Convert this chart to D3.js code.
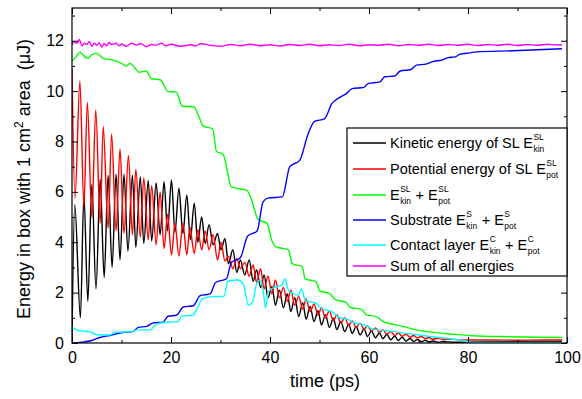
<!DOCTYPE html>
<html><head><meta charset="utf-8">
<script src="https://cdn.jsdelivr.net/npm/d3@7"></script>
<style>
body{margin:0;background:#fff}
svg{display:block}
text{font-family:"Liberation Sans",Arial,sans-serif;fill:#000;white-space:pre}
</style>
</head><body>
<svg id="c" width="582" height="399"></svg>
<script>
const xTicks=[0,20,40,60,80,100];
const xMinor=[10,30,50,70,90];
const yTicks=[0,2,4,6,8,10,12];
const yMinor=[1,3,5,7,9,11,13];

// Kinetic energy of SL [time ps, energy µJ]
const kinetic=[[0,0.15],[0.55,5.5],[1.7,1.0],[2.4,5.9],[3.2,1.65],[4.0,6.3],[4.85,2.15],[5.7,6.5],[6.5,2.6],[7.3,6.65],[8.1,3.0],[8.9,6.7],[9.7,3.3],[10.5,6.7],[11.3,3.65],[12.2,6.65],[12.9,3.8],[13.8,6.6],[14.5,3.95],[15.4,6.45],[16.1,4.05],[17.0,6.35],[17.8,4.3],[18.6,6.4],[19.3,4.45],[20.1,6.47],[20.8,4.4],[21.6,6.15],[22.4,4.35],[23.2,5.87],[23.9,4.1],[24.7,5.55],[25.4,4.0],[26.2,5.0],[26.9,3.95],[27.7,4.7],[28.5,3.9],[29.4,4.35],[30.1,3.7],[30.9,4.15],[31.6,3.15],[32.5,3.7],[33.3,2.8],[34.0,3.3],[34.9,2.7],[35.8,3.3],[36.6,2.45],[37.3,2.9],[38.1,2.2],[38.8,2.7],[39.6,1.8],[40.4,2.25],[41.1,1.5],[41.9,2.1],[42.7,1.4],[43.5,1.95],[44.2,1.25],[45.0,1.8],[45.8,1.05],[46.6,1.6],[47.3,0.95],[48.1,1.45],[48.9,0.85],[49.7,1.28],[50.4,0.72],[51.2,1.12],[52.0,0.62],[52.8,0.98],[53.5,0.53],[54.3,0.86],[55.1,0.45],[55.9,0.75],[56.6,0.38],[57.4,0.65],[58.2,0.32],[59.0,0.56],[59.7,0.26],[60.5,0.48],[61.3,0.21],[62.1,0.4],[62.8,0.17],[63.6,0.34],[64.4,0.13],[65.2,0.28],[65.9,0.1],[66.7,0.23],[67.5,0.08],[68.3,0.18],[69.0,0.06],[69.8,0.14],[70.6,0.05],[71.4,0.11],[72.1,0.04],[72.9,0.08],[74,0.03],[75,0.06],[77,0.03],[80,0.04],[85,0.05],[90,0.06],[95,0.06],[99,0.07]];

// Potential energy of SL
const potential=[[0,10.9],[0.6,5.75],[1.6,10.4],[2.4,5.4],[3.1,9.55],[4.0,5.0],[4.8,9.25],[5.7,4.75],[6.3,8.6],[7.3,4.55],[8.0,8.3],[8.9,4.45],[9.7,7.7],[10.5,4.35],[11.4,7.45],[12.2,4.3],[12.9,6.9],[13.8,4.2],[14.5,6.55],[15.4,4.1],[16.1,6.25],[17.0,3.9],[17.8,6.0],[18.6,3.75],[19.3,5.1],[20.1,3.5],[20.8,4.75],[21.6,3.45],[22.4,4.75],[23.2,3.5],[23.8,4.6],[24.7,3.55],[25.4,4.5],[26.2,3.7],[26.9,4.45],[27.7,3.7],[28.5,4.3],[29.4,3.3],[30.1,4.0],[30.9,3.25],[31.6,3.45],[32.5,2.95],[33.3,3.35],[34.0,2.95],[34.9,3.2],[35.8,2.65],[36.6,3.1],[37.3,2.4],[38.1,2.95],[38.8,2.15],[39.6,2.65],[40.4,1.95],[41.1,2.5],[41.9,1.8],[42.7,2.2],[43.5,1.65],[44.2,2.1],[45.0,1.5],[45.8,1.85],[46.6,1.35],[47.3,1.75],[48.1,1.25],[48.9,1.55],[49.7,1.1],[50.4,1.4],[51.2,1.0],[52.0,1.28],[52.8,0.88],[53.5,1.12],[54.3,0.8],[55.1,1.0],[55.9,0.7],[56.6,0.88],[57.4,0.62],[58.2,0.78],[59.0,0.55],[59.7,0.68],[60.5,0.48],[61.3,0.6],[62.1,0.42],[62.8,0.52],[63.6,0.36],[64.4,0.45],[65.2,0.3],[65.9,0.4],[66.7,0.27],[67.5,0.35],[68.3,0.23],[69.0,0.3],[69.8,0.2],[70.6,0.26],[71.4,0.17],[72.1,0.22],[72.9,0.15],[74,0.19],[75,0.14],[76,0.16],[78,0.13],[80,0.12],[85,0.12],[90,0.11],[95,0.12],[99,0.12]];

// E_kin^SL + E_pot^SL
const slTotal=[[0,11.2],[0.8,11.35],[1.6,11.55],[2.4,11.4],[3.2,11.3],[4,11.45],[5,11.5],[6.3,11.3],[8.3,11.23],[10,11.1],[11,11.0],[11.7,11.1],[12.8,10.9],[13.5,10.75],[15,10.8],[16,10.5],[17.9,10.44],[19.4,9.98],[21,9.97],[22.3,9.4],[24.6,9.38],[25.5,9.05],[26.5,8.62],[28.4,8.5],[29.2,7.6],[30.5,7.5],[32.2,6.2],[33,6.15],[35.3,6.07],[36.3,5.67],[37.6,4.9],[39.4,4.75],[40.4,4.05],[41.2,3.82],[43.7,3.7],[44.5,3.15],[46.5,3.03],[47.1,2.55],[49.3,2.43],[50.1,2.06],[52,1.97],[53.2,1.72],[55.3,1.62],[56.2,1.42],[58.5,1.33],[59.5,1.12],[61.5,1.05],[62.8,0.86],[66,0.7],[67.6,0.62],[70,0.5],[71.7,0.45],[74,0.4],[76.4,0.36],[81,0.29],[88,0.25],[94,0.23],[99,0.22]];

// Substrate E_kin^S + E_pot^S
const substrate=[[0,0],[2,0.03],[4,0.1],[5.6,0.22],[7.7,0.3],[10.4,0.42],[12.3,0.45],[13.4,0.62],[15.1,0.66],[16.4,0.8],[18.4,0.83],[19.4,1.06],[21.1,1.1],[22.5,1.43],[24.5,1.48],[25.9,1.88],[27.9,1.95],[29,2.4],[31.2,2.55],[32.2,3.2],[34,3.38],[35.5,4.25],[37.4,4.45],[38.6,5.6],[39.6,5.75],[42.5,5.8],[44,7.0],[46,7.25],[47.7,8.3],[49,8.8],[51,8.9],[52.5,9.5],[54.1,9.75],[55.4,9.9],[56.6,10.1],[59,10.15],[59.8,10.3],[62.2,10.37],[63.2,10.57],[65.2,10.6],[66.3,10.8],[68.5,10.86],[69.6,11.03],[71.5,11.07],[73,11.18],[74.7,11.23],[76,11.33],[77.4,11.36],[78.4,11.47],[80.4,11.52],[81.8,11.56],[89,11.6],[99,11.68]];

// Contact layer E_kin^C + E_pot^C
const contact=[[0,0.62],[1.6,0.48],[3.6,0.45],[5.0,0.33],[7.7,0.32],[8.5,0.42],[12.3,0.45],[13.1,0.52],[15.8,0.52],[17.0,0.75],[18.8,0.82],[21.4,0.85],[22.2,1.07],[24.4,1.1],[25.5,1.45],[26.3,1.75],[28.5,1.84],[30.7,1.85],[31.5,2.45],[33.5,2.5],[34.7,2.3],[35.6,1.5],[36.4,1.6],[37.4,2.4],[38.0,2.5],[38.6,2.1],[39.1,1.4],[39.7,2.05],[40.8,2.2],[42.4,2.3],[43.0,2.55],[43.7,2.1],[44.8,1.95],[45.7,1.9],[46.4,2.15],[47.1,1.7],[48.5,1.62],[49.3,1.58],[50.1,1.42],[51.5,1.3],[52.7,1.22],[54.1,1.0],[55.6,0.95],[57,0.8],[59,0.72],[60.9,0.55],[64,0.48],[67.6,0.38],[72,0.27],[76,0.18],[79,0.1],[80.5,0.03],[90,0.02],[99,0.02]];

// Sum of all energies
const sumAll=[[0,11.85],[0.5,11.95],[1,11.9],[1.5,12.05],[2,11.8],[2.5,11.9],[3,11.85],[3.5,11.97],[4,11.78],[4.5,11.9],[5,11.82],[5.5,11.92],[6,11.75],[6.5,11.88],[7,11.8],[7.5,11.93],[8,11.85],[9,11.9],[9.5,11.8],[10,11.87],[11,11.78],[12,11.9],[13,11.83],[14,11.88],[15,11.76],[16,11.85],[17,11.82],[18,11.9],[19,11.8],[20,11.86],[22,11.78],[24,11.84],[25,11.8],[26,11.88],[28,11.82],[30,11.78],[32,11.85],[34,11.8],[36,11.86],[38,11.8],[40,11.84],[42,11.79],[44,11.85],[46,11.81],[48,11.86],[50,11.8],[52,11.84],[54,11.81],[56,11.86],[58,11.8],[60,11.84],[62,11.82],[64,11.86],[66,11.8],[68,11.85],[70,11.82],[72,11.86],[74,11.81],[76,11.85],[78,11.82],[80,11.86],[82,11.81],[84,11.85],[86,11.82],[88,11.86],[90,11.81],[92,11.85],[94,11.82],[96,11.86],[98,11.83],[99,11.84]];

const seriesColors=["#000000","#ff0000","#00ff00","#0000ff","#00ffff","#ff00ff"];
const seriesData=[kinetic,potential,slTotal,substrate,contact,sumAll];

const svg=d3.select('#c');
const L=72,R=567,T=8,B=343;
const x=d3.scaleLinear().domain([0,100]).range([L,R]);
const y=d3.scaleLinear().domain([0,13.3]).range([B,T]);

svg.append('defs').append('clipPath').attr('id','clip')
  .append('rect').attr('x',L).attr('y',T).attr('width',R-L).attr('height',B-T);

const line=d3.line().x(d=>x(d[0])).y(d=>y(d[1])).curve(d3.curveMonotoneX);
const plot=svg.append('g').attr('clip-path','url(#clip)');
seriesData.forEach((d,i)=>{
  plot.append('path').datum(d).attr('d',line).attr('fill','none')
    .attr('stroke',seriesColors[i]).attr('stroke-width',1.4).attr('stroke-linejoin','round');
});

function styleAxis(g){g.select('.domain').remove();g.selectAll('line').attr('stroke','#000');g.selectAll('text').attr('font-size',16).attr('font-family','"Liberation Sans",Arial,sans-serif');}
svg.append('g').attr('transform',`translate(0,${B})`).call(d3.axisBottom(x).tickValues(xTicks).tickSize(-6).tickPadding(9).tickFormat(d3.format('d'))).call(styleAxis);
svg.append('g').attr('transform',`translate(0,${B})`).call(d3.axisBottom(x).tickValues(xMinor).tickSize(-3).tickFormat('')).call(styleAxis);
svg.append('g').attr('transform',`translate(0,${T})`).call(d3.axisTop(x).tickValues(xTicks).tickSize(-6).tickFormat('')).call(styleAxis);
svg.append('g').attr('transform',`translate(0,${T})`).call(d3.axisTop(x).tickValues(xMinor).tickSize(-3).tickFormat('')).call(styleAxis);
svg.append('g').attr('transform',`translate(${L},0)`).call(d3.axisLeft(y).tickValues(yTicks).tickSize(-6).tickPadding(8).tickFormat(d3.format('d'))).call(styleAxis);
svg.append('g').attr('transform',`translate(${L},0)`).call(d3.axisLeft(y).tickValues(yMinor).tickSize(-3).tickFormat('')).call(styleAxis);
svg.append('g').attr('transform',`translate(${R},0)`).call(d3.axisRight(y).tickValues(yTicks).tickSize(-6).tickFormat('')).call(styleAxis);
svg.append('g').attr('transform',`translate(${R},0)`).call(d3.axisRight(y).tickValues(yMinor).tickSize(-3).tickFormat('')).call(styleAxis);

svg.append('rect').attr('x',L).attr('y',T).attr('width',R-L).attr('height',B-T)
  .attr('fill','none').attr('stroke','#000').attr('stroke-width',1.2);

svg.append('text').attr('x',325).attr('y',387).attr('text-anchor','middle').attr('font-size',18).text('time (ps)');
const yt=svg.append('text').attr('transform','translate(30,179) rotate(-90)').attr('text-anchor','middle').attr('font-size',18);
yt.append('tspan').text('Energy in box with 1 cm');
yt.append('tspan').attr('dy',-7).attr('font-size',12).text('2');
yt.append('tspan').attr('dy',7).text(' area  (\u03bcJ)');

const legendRows=[
  [["Kinetic energy of SL E","SL","kin"]],
  [["Potential energy of SL E","SL","pot"]],
  [["E","SL","kin"],["\u00a0+ E","SL","pot"]],
  [["Substrate E","S","kin"],["\u00a0+ E","S","pot"]],
  [["Contact layer E","C","kin"],["\u00a0+ E","C","pot"]],
  [["Sum of all energies",null,null]]
];
const legendY=[143,169,195,220,245,266];
const lg=svg.append('g');
lg.append('rect').attr('x',347).attr('y',128).attr('width',567-347).attr('height',276-128)
  .attr('fill','#fff').attr('stroke','#000').attr('stroke-width',1.2);
legendRows.forEach((parts,i)=>{
  const ly=legendY[i];
  lg.append('line').attr('x1',353).attr('x2',386).attr('y1',ly).attr('y2',ly)
    .attr('stroke',seriesColors[i]).attr('stroke-width',1.5);
  let cx=390; const yb=ly+5;
  parts.forEach(p=>{
    const t=lg.append('text').attr('x',cx).attr('y',yb).attr('font-size',14.5).text(p[0]);
    cx+=t.node().getComputedTextLength();
    if(p[1]){
      const s1=lg.append('text').attr('x',cx+0.5).attr('y',yb-8).attr('font-size',8.5).text(p[1]);
      const s2=lg.append('text').attr('x',cx+0.5).attr('y',yb+3.5).attr('font-size',8.5).text(p[2]);
      cx+=Math.max(s1.node().getComputedTextLength(),s2.node().getComputedTextLength())+1;
    }
  });
});
</script>
</body></html>
